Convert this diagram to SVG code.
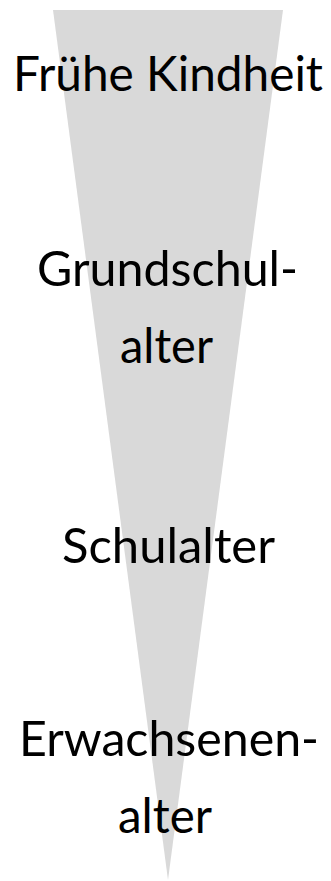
<svg xmlns="http://www.w3.org/2000/svg" width="331" height="881" viewBox="0 0 331 881">
<style>
.lbl{font-family:Lato,"Open Sans","Liberation Sans",sans-serif;font-size:48px;fill:#000;text-anchor:middle}
</style>
<rect width="331" height="881" fill="#fff"/>
<g id="funnel"><polygon points="53,10 283,10 168,880" fill="#d9d9d9"/></g>
<g id="n1"><text class="lbl" x="168" y="91" textLength="310" lengthAdjust="spacingAndGlyphs">Frühe Kindheit</text></g>
<g id="n2"><text class="lbl" x="167.5" y="286" textLength="261" lengthAdjust="spacingAndGlyphs">Grundschul-</text>
<text class="lbl" x="166.5" y="363" textLength="93" lengthAdjust="spacingAndGlyphs">alter</text></g>
<g id="n3"><text class="lbl" x="168.5" y="563" textLength="213" lengthAdjust="spacingAndGlyphs">Schulalter</text></g>
<g id="n4"><text class="lbl" x="169" y="756" textLength="300" lengthAdjust="spacingAndGlyphs">Erwachsenen-</text>
<text class="lbl" x="165" y="833" textLength="94" lengthAdjust="spacingAndGlyphs">alter</text></g>
</svg>
